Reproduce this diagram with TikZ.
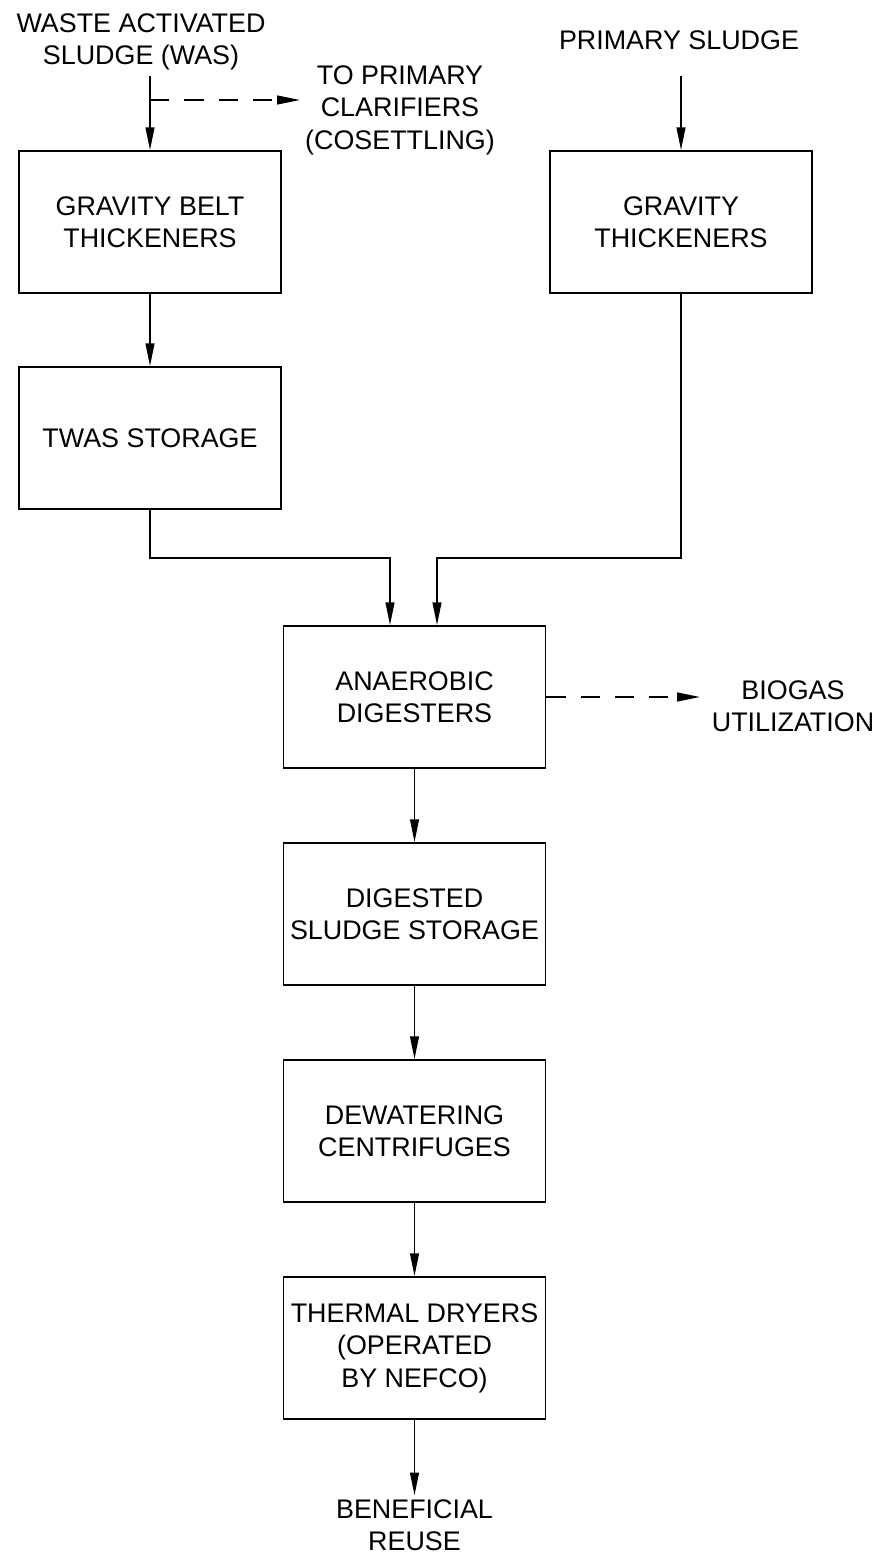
\documentclass[tikz,border=0pt]{standalone}
\usepackage{fontspec}
\setmainfont{Liberation Sans}
\usetikzlibrary{arrows.meta}
\definecolor{PlantInk}{HTML}{000000}

\begin{document}
\begin{tikzpicture}[x=0.02cm,y=-0.02cm,
  unit/.style={draw=PlantInk,line width=1pt,minimum width=5.24cm,minimum height=2.84cm,
    align=center,inner sep=0pt,font=\fontsize{15.3}{18.5}\selectfont},
  tag/.style={align=center,inner sep=0pt,font=\fontsize{15.3}{18.5}\selectfont},
  flow/.style={draw=PlantInk,line width=1pt,-{Triangle[length=13pt,width=5pt]}},
  spill/.style={flow,dash pattern=on 11pt off 8.5pt}]
\path[use as bounding box] (0,0) rectangle (880,1555);
% feeds
\node[tag,anchor=north] (was) at (141,13) {WASTE ACTIVATED\\SLUDGE (WAS)};
\node[tag,anchor=north] (toprim) at (400,65) {TO PRIMARY\\CLARIFIERS\\(COSETTLING)};
\node[tag] (prim) at (679,40) {PRIMARY SLUDGE};
% process units
\node[unit] (gbt) at (150,222) {GRAVITY BELT\\THICKENERS};
\node[unit] (twas) at (150,438) {TWAS STORAGE};
\node[unit] (gt) at (681,222) {GRAVITY\\THICKENERS};
\node[unit] (ad) at (414.5,697) {ANAEROBIC\\DIGESTERS};
\node[unit] (dss) at (414.5,914) {DIGESTED\\SLUDGE STORAGE};
\node[unit] (dc) at (414.5,1131) {DEWATERING\\CENTRIFUGES};
\node[unit] (td) at (414.5,1348) {THERMAL DRYERS\\(OPERATED\\BY NEFCO)};
% outlets
\node[tag] (bio) at (793,706) {BIOGAS\\UTILIZATION};
\node[tag,inner sep=2pt] (reuse) at (414.5,1525) {BENEFICIAL\\REUSE};
\coordinate (wasdrop) at (150,76);
\coordinate (split) at (150,100);
\coordinate (toprimtip) at (300,100);
\coordinate (primdrop) at (681,76);
\coordinate (tojoin) at (390,558);
\coordinate (gtjoin) at (437,558);
\coordinate (biotip) at (700,697);
% connectors
\draw[flow] (wasdrop) -- (gbt.north);
\draw[spill] (split) -- (toprimtip);
\draw[flow] (primdrop) -- (gt.north);
\draw[flow] (gbt.south) -- (twas.north);
\draw[flow] (twas.south) |- (tojoin) -- (tojoin |- ad.north);
\draw[flow] (gt.south) |- (gtjoin) -- (gtjoin |- ad.north);
\draw[spill] (ad.east) -- (biotip);
\draw[flow] (ad.south) -- (dss.north);
\draw[flow] (dss.south) -- (dc.north);
\draw[flow] (dc.south) -- (td.north);
\draw[flow] (td.south) -- (reuse.north);
\end{tikzpicture}
\end{document}
